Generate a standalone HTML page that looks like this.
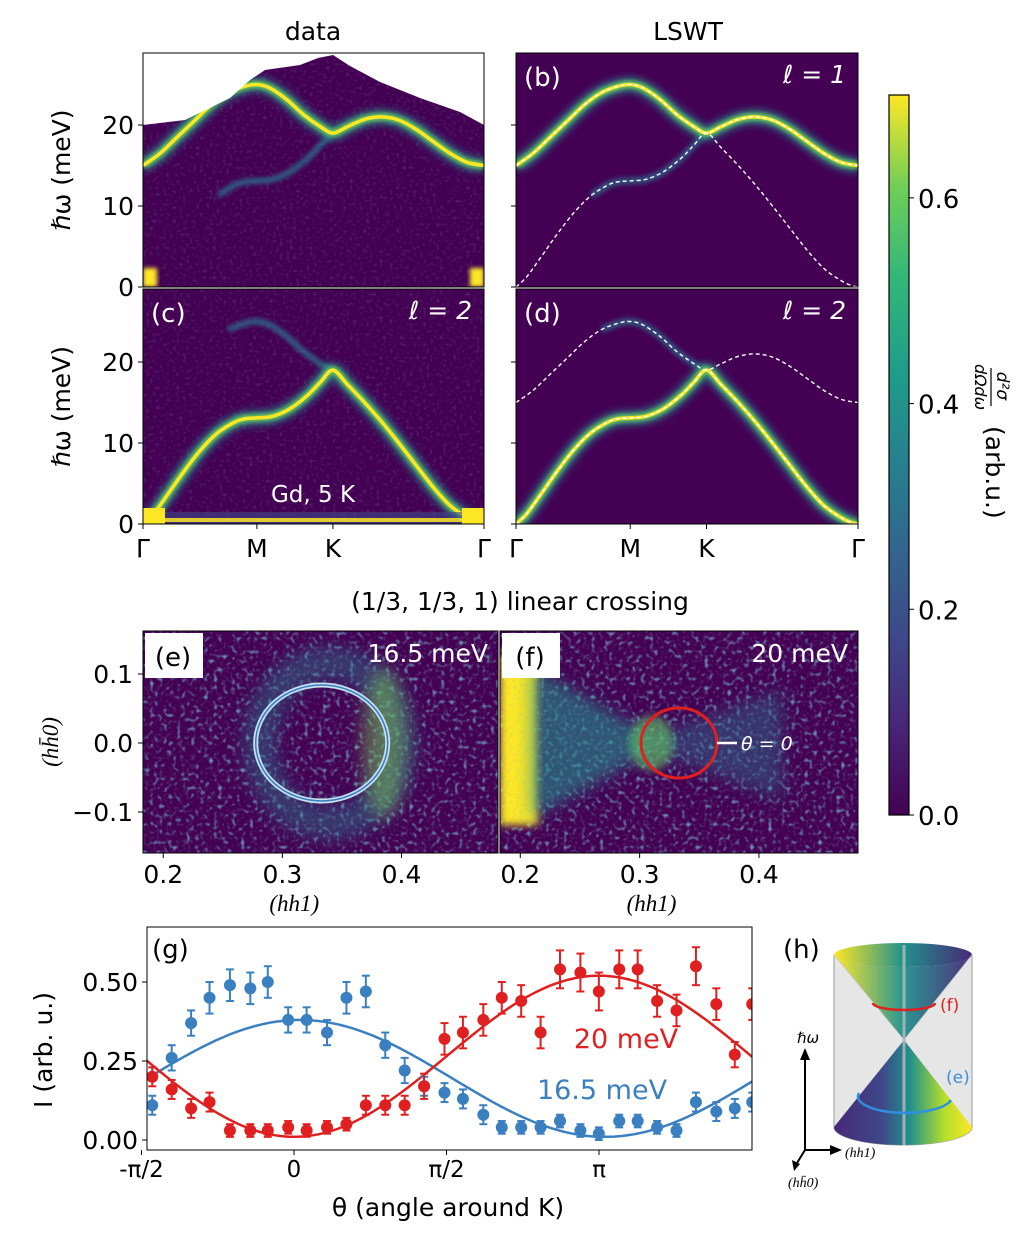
<!DOCTYPE html>
<html><head><meta charset="utf-8"><style>
html,body{margin:0;padding:0;background:#fff;}
svg{display:block;font-family:"DejaVu Sans","Liberation Sans",sans-serif;}
</style></head><body>
<svg id="fig" width="1033" height="1240" viewBox="0 0 1033 1240" xmlns="http://www.w3.org/2000/svg">
<defs>
<linearGradient id="viridis" x1="0" y1="1" x2="0" y2="0">
<stop offset="0" stop-color="#440154"/><stop offset="0.13" stop-color="#482878"/><stop offset="0.25" stop-color="#3e4989"/><stop offset="0.38" stop-color="#31688e"/><stop offset="0.5" stop-color="#26828e"/><stop offset="0.62" stop-color="#1f9e89"/><stop offset="0.75" stop-color="#35b779"/><stop offset="0.87" stop-color="#6ece58"/><stop offset="1" stop-color="#fde725"/>
</linearGradient>
<linearGradient id="coneTop" x1="0" y1="0" x2="1" y2="0"><stop offset="0" stop-color="#fde725"/><stop offset="0.5" stop-color="#21918c"/><stop offset="1" stop-color="#482878"/></linearGradient>
<linearGradient id="coneBot" x1="0" y1="0" x2="1" y2="0"><stop offset="0" stop-color="#482878"/><stop offset="0.35" stop-color="#3e4989"/><stop offset="0.55" stop-color="#21918c"/><stop offset="0.8" stop-color="#b5de2b"/><stop offset="1" stop-color="#fde725"/></linearGradient>
<filter id="b2" x="-20%" y="-20%" width="140%" height="140%"><feGaussianBlur stdDeviation="2"/></filter>
<filter id="b4" x="-20%" y="-20%" width="140%" height="140%"><feGaussianBlur stdDeviation="4"/></filter>
<filter id="b8" x="-30%" y="-30%" width="160%" height="160%"><feGaussianBlur stdDeviation="8"/></filter>
<filter id="noise" x="0" y="0" width="100%" height="100%"><feTurbulence type="fractalNoise" baseFrequency="0.22" numOctaves="1" seed="4"/><feColorMatrix type="matrix" values="0 0 0 0 0.17  0 0 0 0 0.4  0 0 0 0 0.55  0 0 0 3.2 -1.75"/></filter>
<filter id="noise2" x="0" y="0" width="100%" height="100%"><feTurbulence type="fractalNoise" baseFrequency="0.3" numOctaves="1" seed="9"/><feColorMatrix type="matrix" values="0 0 0 0 0.25  0 0 0 0 0.4  0 0 0 0 0.55  0 0 0 2.4 -1.3"/></filter>
<clipPath id="cA"><rect x="143" y="53" width="341" height="234"/></clipPath>
<clipPath id="cB"><rect x="516" y="53" width="342" height="234"/></clipPath>
<clipPath id="cC"><rect x="143" y="289" width="341" height="235"/></clipPath>
<clipPath id="cD"><rect x="516" y="289" width="342" height="235"/></clipPath>
<clipPath id="cE"><rect x="143" y="631" width="355" height="222"/></clipPath>
<clipPath id="cF"><rect x="500" y="631" width="358" height="222"/></clipPath>
<clipPath id="cG"><rect x="147" y="927" width="605" height="223"/></clipPath>
</defs>
<g id="root"></g>
</svg>
<script>
// ---- dispersion data (k fraction along Γ-M-K-Γ, energy meV) ----
const kUpper=[0,0.05,0.1,0.15,0.2,0.25,0.3,0.334,0.37,0.42,0.47,0.52,0.557,0.6,0.65,0.7,0.75,0.8,0.85,0.9,0.95,1.0];
const eUpper=[15,16.5,18.5,20.5,22.5,24,24.8,25,24.6,23.2,21.3,19.8,19,19.8,20.7,21,20.6,19.5,18,16.5,15.4,15];
const kLower=[0,0.03,0.07,0.12,0.17,0.22,0.27,0.3,0.334,0.38,0.43,0.48,0.52,0.557,0.6,0.65,0.7,0.75,0.8,0.85,0.9,0.95,0.98,1.0];
const eLower=[0,1.2,3.5,6.5,9.2,11.3,12.6,13,13.1,13.3,14.2,15.8,17.5,19,17.2,15,12.6,10,7.3,4.6,2.3,0.8,0.2,0];
const eTicks=[0,10,20];
const kTickPos=[0,0.334,0.557,1];
const kTickLab=['Γ','M','K','Γ'];
// ---- panel (e)/(f) ----
const qTicks=[0.2,0.3,0.4];
const qyTicks=[0.1,0.0,-0.1];
const qyTickLab=['0.1','0.0','−0.1'];
// ---- panel (g) ----
const thetaBlue=[-1.46,-1.26,-1.06,-0.87,-0.66,-0.45,-0.27,-0.06,0.13,0.34,0.54,0.74,0.94,1.14,1.34,1.55,1.74,1.95,2.14,2.34,2.54,2.74,2.95,3.14,3.35,3.54,3.74,3.94,4.14,4.35,4.54,4.72];
const iBlue=[0.11,0.26,0.37,0.45,0.49,0.48,0.50,0.38,0.38,0.34,0.45,0.47,0.30,0.22,0.17,0.15,0.13,0.08,0.04,0.04,0.04,0.06,0.03,0.02,0.06,0.06,0.04,0.03,0.12,0.09,0.10,0.12];
const errBlue=[0.03,0.04,0.04,0.05,0.05,0.05,0.05,0.04,0.04,0.04,0.05,0.05,0.04,0.04,0.03,0.03,0.03,0.03,0.02,0.02,0.02,0.02,0.02,0.02,0.02,0.02,0.02,0.02,0.03,0.03,0.03,0.03];
const thetaRed=[-1.46,-1.26,-1.06,-0.87,-0.66,-0.45,-0.27,-0.06,0.13,0.34,0.54,0.74,0.94,1.14,1.34,1.55,1.74,1.95,2.14,2.34,2.54,2.74,2.95,3.14,3.35,3.54,3.74,3.94,4.14,4.35,4.54,4.72];
const iRed=[0.20,0.16,0.10,0.12,0.03,0.03,0.03,0.04,0.03,0.04,0.05,0.11,0.11,0.11,0.17,0.32,0.34,0.38,0.45,0.44,0.34,0.54,0.53,0.47,0.54,0.54,0.44,0.41,0.55,0.43,0.27,0.43];
const errRed=[0.03,0.03,0.03,0.03,0.02,0.02,0.02,0.02,0.02,0.02,0.02,0.03,0.03,0.03,0.04,0.05,0.05,0.05,0.05,0.05,0.05,0.06,0.06,0.06,0.06,0.06,0.05,0.05,0.06,0.05,0.04,0.05];
const fitBlue=[0.195,0.185,0.06];   // offset, amplitude, phase
const fitRed=[0.265,-0.255,0.0];
const iTicks=[0,0.25,0.5];
const iTickLab=['0.00','0.25','0.50'];
const thTicks=[-Math.PI/2,0,Math.PI/2,Math.PI];
const thTickLab=['-π/2','0','π/2','π'];
const cbTicks=[0,0.2,0.4,0.6];

const NS='http://www.w3.org/2000/svg';
const root=document.getElementById('root');
function mk(tag,attrs,parent){const e=document.createElementNS(NS,tag);for(const k in attrs)e.setAttribute(k,attrs[k]);(parent||root).appendChild(e);return e;}
function txt(s,x,y,size,anchor,parent,extra){const t=mk('text',Object.assign({x:x,y:y,'font-size':size,'text-anchor':anchor||'middle'},extra||{}),parent);t.textContent=s;return t;}
function smooth(pts){let d='M'+pts[0][0]+','+pts[0][1];for(let i=0;i<pts.length-1;i++){const p0=pts[Math.max(0,i-1)],p1=pts[i],p2=pts[i+1],p3=pts[Math.min(pts.length-1,i+2)];const c1=[p1[0]+(p2[0]-p0[0])/6,p1[1]+(p2[1]-p0[1])/6],c2=[p2[0]-(p3[0]-p1[0])/6,p2[1]-(p3[1]-p1[1])/6];d+=' C'+c1[0].toFixed(1)+','+c1[1].toFixed(1)+' '+c2[0].toFixed(1)+','+c2[1].toFixed(1)+' '+p2[0].toFixed(1)+','+p2[1].toFixed(1);}return d;}
function branch(ks,es,X,Y,kmin,kmax){const p=[];for(let i=0;i<ks.length;i++){if(ks[i]>=kmin-1e-9&&ks[i]<=kmax+1e-9)p.push([X(ks[i]),Y(es[i])]);}return smooth(p);}

// ---------- heatmap panels ----------
const panels=[
 {id:'a',x0:143,x1:484,y0:287,yt:53,clip:'cA',bright:'upper',label:'(a)',ell:'1'},
 {id:'b',x0:516,x1:858,y0:287,yt:53,clip:'cB',bright:'upper',label:'(b)',ell:'1',theory:true},
 {id:'c',x0:143,x1:484,y0:524,yt:289,clip:'cC',bright:'lower',label:'(c)',ell:'2'},
 {id:'d',x0:516,x1:858,y0:524,yt:289,clip:'cD',bright:'lower',label:'(d)',ell:'2',theory:true}
];
panels.forEach(P=>{
 const g=mk('g',{'clip-path':'url(#'+P.clip+')'});
 
 
 const X=k=>P.x0+k*(P.x1-P.x0), Y=e=>P.y0-e*8.1;
 mk('rect',{x:P.x0,y:P.yt,width:P.x1-P.x0,height:P.y0-P.yt,fill:'#440154'},g);
 if(!P.theory){
   mk('rect',{x:P.x0,y:P.yt,width:P.x1-P.x0,height:P.y0-P.yt,fill:'#fff',filter:'url(#noise2)',opacity:0.3},g);
 }
 const brightSet=P.bright==='upper'?[kUpper,eUpper]:[kLower,eLower];
 const faintSet=P.bright==='upper'?[kLower,eLower]:[kUpper,eUpper];
 const dF=branch(faintSet[0],faintSet[1],X,Y,0.22,0.557);
 mk('path',{d:dF,fill:'none',stroke:'#2c728e',  'stroke-width':P.theory?7:6,opacity:P.theory?0.7:0.8,filter:'url(#b2)'},g);
 const dB=branch(brightSet[0],brightSet[1],X,Y,0,1);
 mk('path',{d:dB,fill:'none',stroke:'#21918c','stroke-width':14,opacity:0.8,filter:'url(#b4)'},g);
 mk('path',{d:dB,fill:'none',stroke:'#6ece58','stroke-width':7,filter:'url(#b2)'},g);
 mk('path',{d:dB,fill:'none',stroke:'#fde725','stroke-width':3.5},g);
 if(P.theory){
   const d1=branch(kUpper,eUpper,X,Y,0,1), d2=branch(kLower,eLower,X,Y,0,1);
   const l1=mk('path',{d:d1,fill:'none',stroke:'#fff','stroke-width':1.4,'stroke-dasharray':'4,3'},g);
   
   
   const l2=mk('path',{d:d2,fill:'none',stroke:'#fff','stroke-width':1.4,'stroke-dasharray':'4,3'},g);
   
   
 }
 if(P.id==='a'){
   mk('polygon',{points:'143,53 143,125 185,120 230,98 250,80 265,70 300,65 318,58 333,55 350,66 380,82 420,98 460,112 484,125 484,53',fill:'#fff'},g);
   mk('rect',{x:143,y:268,width:14,height:19,fill:'#fde725',filter:'url(#b2)'},g);
   mk('rect',{x:470,y:268,width:14,height:19,fill:'#fde725',filter:'url(#b2)'},g);
 }
 if(P.id==='c'){
   mk('rect',{x:143,y:512,width:341,height:12,fill:'#3e4989',opacity:0.6},g);
   mk('rect',{x:143,y:508,width:22,height:16,fill:'#fde725'},g);
   mk('rect',{x:462,y:508,width:22,height:16,fill:'#fde725'},g);
   mk('rect',{x:143,y:518,width:341,height:4,fill:'#fde725',opacity:0.85},g);
   const t=txt('Gd, 5 K',313,502,23,'middle',g,{fill:'#fff'});
   
   
 }
 // frame
 const fr=mk('rect',{x:P.x0,y:P.yt,width:P.x1-P.x0,height:P.y0-P.yt,fill:'none',stroke:'#000','stroke-width':1});
 
 
 const lb=txt(P.label,P.x0+8,P.yt+33,26,'start',root,{fill:'#fff'});
 
 
 const el=txt('ℓ = '+P.ell,P.x1-12,P.yt+30,25,'end',root,{fill:'#fff','font-style':'italic'});
 
 
 // y ticks
 eTicks.forEach(e=>{
   mk('line',{x1:P.x0-5,x2:P.x0,y1:Y(e),y2:Y(e),stroke:'#000','stroke-width':1});
   if(P.x0<200){const t=txt(String(e),P.x0-9,Y(e)+9,25,'end');}
 });
 if(P.id==='c'||P.id==='d'){
   kTickPos.forEach((k,i)=>{
     mk('line',{x1:X(k),x2:X(k),y1:P.y0,y2:P.y0+5,stroke:'#000'});
     const t=txt(kTickLab[i],X(k),P.y0+33,25,'middle');
     
     
   });
 }
 if(P.x0<200){
   const yt=txt('ℏω (meV)',0,0,25,'middle',root,{transform:'translate('+(P.x0-73)+','+((P.y0+P.yt)/2)+') rotate(-90)'});
   
   
 }
});
let t;
t=txt('data',313,40,25);
t=txt('LSWT',688,40,25);

// ---------- colorbar ----------
const cbX=889,cbW=20,cbTop=95,cbBot=815,cbMax=0.7;
const CB=v=>cbBot-(v/cbMax)*(cbBot-cbTop);
t=mk('rect',{x:cbX,y:cbTop,width:cbW,height:cbBot-cbTop,fill:'url(#viridis)',stroke:'#000','stroke-width':1.2});

cbTicks.forEach(v=>{
 mk('line',{x1:cbX+cbW,x2:cbX+cbW+5,y1:CB(v),y2:CB(v),stroke:'#000'});
 const l=txt(v.toFixed(1),cbX+cbW+9,CB(v)+10,26,'start');
 
});
const cbl=mk('g',{transform:'translate(985,368) rotate(90)'});

txt('d²σ',18,-12,17,'middle',cbl,{'font-style':'italic'});
mk('line',{x1:0,x2:38,y1:-6,y2:-6,stroke:'#000','stroke-width':1.2},cbl);
txt('dΩdω',19,10,16,'middle',cbl,{'font-style':'italic'});
txt('(arb.u.)',58,-1,25,'start',cbl);

// ---------- linear crossing title ----------
t=txt('(1/3, 1/3, 1) linear crossing',520,610,25);


// ---------- panels e, f ----------
const EF=[{id:'e',x0:143,x1:498,q0:0.183,q1:0.481,clip:'cE'},{id:'f',x0:500,x1:858,q0:0.183,q1:0.483,clip:'cF'}];
const QY=v=>743-v*690;
EF.forEach(P=>{
 const QX=q=>P.x0+(q-P.q0)/(P.q1-P.q0)*(P.x1-P.x0);
 const g=mk('g',{'clip-path':'url(#'+P.clip+')'});
 
 mk('rect',{x:P.x0,y:631,width:P.x1-P.x0,height:222,fill:'#440154'},g);
 mk('rect',{x:P.x0,y:631,width:P.x1-P.x0,height:222,fill:'#fff',filter:'url(#noise)'},g);
 if(P.id==='e'){
   mk('ellipse',{cx:QX(0.34),cy:QY(0),rx:70,ry:80,fill:'none',stroke:'#2a788e','stroke-width':34,opacity:0.45,filter:'url(#b8)'},g);
   mk('ellipse',{cx:QX(0.385),cy:QY(0),rx:22,ry:75,fill:'#7ad151',opacity:0.45,filter:'url(#b8)'},g);
   mk('rect',{x:P.x0,y:631,width:P.x1-P.x0,height:222,fill:'#fff',filter:'url(#noise2)',opacity:0.4},g);
   const c=mk('ellipse',{cx:QX(0.333),cy:QY(0),rx:66,ry:58,fill:'none',stroke:'#c8e0f0','stroke-width':5},g);
   
   mk('ellipse',{cx:QX(0.333),cy:QY(0),rx:66,ry:58,fill:'none',stroke:'#3a7fc0','stroke-width':1.6},g);
 } else {
   mk('rect',{x:P.x0,y:655,width:38,height:170,fill:'#fde725',filter:'url(#b4)'},g);
   mk('polygon',{points:(P.x0+30)+',665 '+QX(0.31)+',735 '+QX(0.31)+',752 '+(P.x0+30)+',820',fill:'#21918c',opacity:0.6,filter:'url(#b8)'},g);
   mk('polygon',{points:QX(0.31)+',735 '+QX(0.42)+',690 '+QX(0.42)+',800 '+QX(0.31)+',752',fill:'#2c728e',opacity:0.45,filter:'url(#b8)'},g);
   mk('ellipse',{cx:QX(0.31),cy:QY(0),rx:22,ry:28,fill:'#5ec962',opacity:0.6,filter:'url(#b4)'},g);
   mk('rect',{x:P.x0,y:631,width:P.x1-P.x0,height:222,fill:'#fff',filter:'url(#noise2)',opacity:0.4},g);
   const c=mk('ellipse',{cx:QX(0.333),cy:QY(0),rx:38,ry:35,fill:'none',stroke:'#e02020','stroke-width':3},g);
   
   mk('line',{x1:QX(0.333)+38,x2:QX(0.333)+58,y1:QY(0),y2:QY(0),stroke:'#fff','stroke-width':2.5},g);
   const th=txt('θ = 0',QX(0.333)+62,QY(0)+7,19,'start',g,{fill:'#fff','font-style':'italic'});
   
 }
 const fr=mk('rect',{x:P.x0,y:631,width:P.x1-P.x0,height:222,fill:'none',stroke:'#000'});
 
 const bx=mk('rect',{x:P.x0+2,y:633,width:58,height:45,fill:'#fff'});
 
 txt('('+P.id+')',P.x0+30,666,26,'middle');
 const en=txt(P.id==='e'?'16.5 meV':'20 meV',P.x1-10,662,25,'end',root,{fill:'#fff'});
 
 qTicks.forEach(q=>{
   mk('line',{x1:QX(q),x2:QX(q),y1:853,y2:858,stroke:'#000'});
   const l=txt(q.toFixed(1),QX(q),883,25);
 });
 const xt=txt('(hh1)',QX(0.31),911,23,'middle',root,{'font-family':'Liberation Serif, serif','font-style':'italic'});
 
 if(P.id==='e'){
   qyTicks.forEach((v,i)=>{
     mk('line',{x1:138,x2:143,y1:QY(v),y2:QY(v),stroke:'#000'});
     const l=txt(qyTickLab[i],133,QY(v)+9,25,'end');
   });
   const yt=txt('(hh̄0)',0,0,23,'middle',root,{transform:'translate(58,742) rotate(-90)','font-family':'Liberation Serif, serif','font-style':'italic'});
   
 }
});

// ---------- panel g ----------
const gx0=147,gx1=752,gy0=927,gy1=1150;
const GX=th=>294+th*(152.5/(Math.PI/2));
const GY=v=>1140-v*316;
const gg=mk('g',{'clip-path':'url(#cG)'});

function fitPath(p){const pts=[];for(let th=-1.6;th<=4.8;th+=0.05)pts.push([GX(th),GY(p[0]+p[1]*Math.cos(th-p[2]))]);return 'M'+pts.map(q=>q[0].toFixed(1)+','+q[1].toFixed(1)).join(' L');}
let fb=mk('path',{d:fitPath(fitBlue),fill:'none',stroke:'#3a7fbf','stroke-width':2.5},gg);

let fr2=mk('path',{d:fitPath(fitRed),fill:'none',stroke:'#e02020','stroke-width':2.5},gg);

function points(ths,vals,errs,col,name){
 ths.forEach((th,i)=>{
   const x=GX(th),y=GY(vals[i]);
   const eb=mk('line',{x1:x,x2:x,y1:GY(vals[i]+errs[i]),y2:GY(vals[i]-errs[i]),stroke:col,'stroke-width':2},gg);
   
   mk('line',{x1:x-4,x2:x+4,y1:GY(vals[i]+errs[i]),y2:GY(vals[i]+errs[i]),stroke:col,'stroke-width':2},gg);
   mk('line',{x1:x-4,x2:x+4,y1:GY(vals[i]-errs[i]),y2:GY(vals[i]-errs[i]),stroke:col,'stroke-width':2},gg);
   const c=mk('circle',{cx:x,cy:y,r:6,fill:col},gg);
   
 });
}
points(thetaBlue,iBlue,errBlue,'#3a7fbf','blue-16.5meV');
points(thetaRed,iRed,errRed,'#e02020','red-20meV');
t=mk('rect',{x:gx0,y:gy0,width:gx1-gx0,height:gy1-gy0,fill:'none',stroke:'#000'});

t=txt('(g)',152,958,26,'start');
t=txt('20 meV',626,1048,27,'middle',root,{fill:'#e02020'});
t=txt('16.5 meV',602,1099,27,'middle',root,{fill:'#3a7fbf'});
iTicks.forEach((v,i)=>{
 mk('line',{x1:gx0-5,x2:gx0,y1:GY(v),y2:GY(v),stroke:'#000'});
 const l=txt(iTickLab[i],gx0-9,GY(v)+9,25,'end');
});
thTicks.forEach((v,i)=>{
 mk('line',{x1:GX(v),x2:GX(v),y1:gy1,y2:gy1+5,stroke:'#000'});
 const l=txt(thTickLab[i],GX(v),1177,23,'middle');
});
t=txt('I (arb. u.)',0,0,25,'middle',root,{transform:'translate(52,1050) rotate(-90)'});
t=txt('θ (angle around K)',448,1216,25,'middle');

// ---------- panel h (cone sketch) ----------
const hg=mk('g',{});

txt('(h)',783,958,26,'start',hg);
mk('path',{d:'M834,955 L834,1127 A69,18 0 0 0 972,1127 L972,955 Z',fill:'#e6e6e6',stroke:'#999','stroke-width':1},hg);
mk('path',{d:'M834,955 A69,12 0 0 1 972,955 A69,12 0 0 1 834,955 Z',fill:'url(#coneTop)'},hg);
mk('path',{d:'M834,955 L904,1040 L972,955 A69,12 0 0 1 834,955 Z',fill:'url(#coneTop)',opacity:0.95},hg);
mk('path',{d:'M834,955 L904,1040 L972,955',fill:'none',stroke:'#ccc','stroke-width':0.8},hg);
mk('path',{d:'M904,1040 L834,1127 A69,18 0 0 0 972,1127 Z',fill:'url(#coneBot)'},hg);
mk('line',{x1:904,x2:904,y1:945,y2:1145,stroke:'#bbb','stroke-width':3,opacity:0.8},hg);
let re=mk('path',{d:'M873,1003 A31,7 0 0 0 935,1003',fill:'none',stroke:'#e02020','stroke-width':2.5},hg);

let be=mk('path',{d:'M859,1093 A46,16 0 0 0 951,1100',fill:'none',stroke:'#2f8fe0','stroke-width':2.5},hg);

txt('(f)',940,1011,17,'start',hg,{fill:'#e02020'});
txt('(e)',946,1083,17,'start',hg,{fill:'#3a8fd8'});
mk('line',{x1:805,x2:805,y1:1150,y2:1058,stroke:'#000','stroke-width':2},hg);
mk('polygon',{points:'800,1060 810,1060 805,1048',fill:'#000'},hg);
mk('line',{x1:805,x2:832,y1:1150,y2:1150,stroke:'#000','stroke-width':2},hg);
mk('polygon',{points:'830,1145 830,1155 842,1150',fill:'#000'},hg);
mk('line',{x1:805,x2:797,y1:1150,y2:1163,stroke:'#000','stroke-width':2},hg);
mk('polygon',{points:'792,1160 800,1164 794,1171',fill:'#000'},hg);
txt('ℏω',797,1043,15,'start',hg,{'font-style':'italic'});
txt('(hh1)',845,1157,14,'start',hg,{'font-family':'Liberation Serif, serif','font-style':'italic'});
txt('(hh̄0)',788,1187,14,'start',hg,{'font-family':'Liberation Serif, serif','font-style':'italic'});
</script>
</body></html>
